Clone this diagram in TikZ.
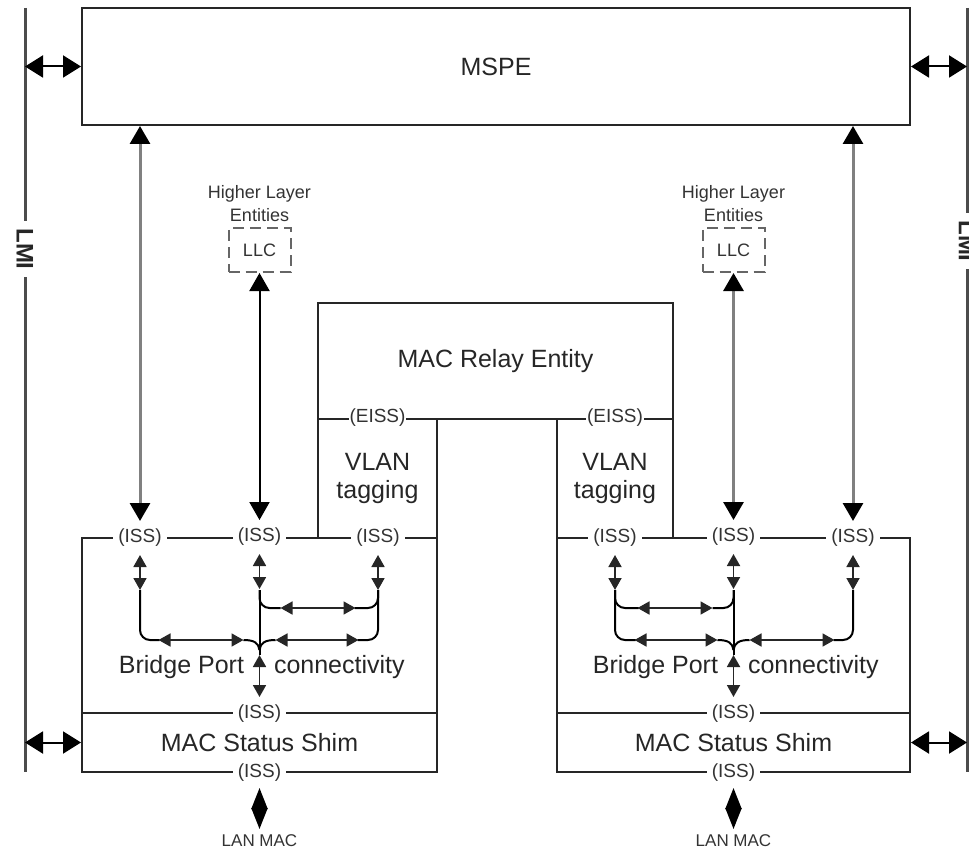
\documentclass[tikz,border=0pt]{standalone}
\usepackage{fontspec}
\setmainfont{Liberation Sans}
\usetikzlibrary{arrows.meta,positioning}

\begin{document}
\begin{tikzpicture}[
    x = 1pt, y = -1pt, % one unit per pixel, y downwards
    > = {Triangle[length=18pt, width=20pt, color=black]}, % arrow head style
    line width = 2pt, % line style
    ]

    \tikzset{
    box/.style = {draw = black!85, inner sep = 0pt, align = center,
        text = black!85, font = \fontsize{25}{28}\selectfont},
    txt/.style = {text = black!85, inner sep = 0pt, font = \fontsize{25}{28}\selectfont},
    iss/.style = {fill = white, inner xsep = 5pt, inner ysep = 1pt,
        text = black!80, font = \fontsize{19}{21}\selectfont},
    eiss/.style = {iss, inner xsep = 1pt},
    note/.style = {align = center, inner sep = 1pt, text = black!80,
        font = \fontsize{18}{23}\selectfont},
    llc/.style = {draw = black!60, dash pattern = on 11pt off 6pt,
        minimum width = 62, minimum height = 44, text = black!80,
        font = \fontsize{18}{20}\selectfont},
    lmitxt/.style = {rotate = -90, fill = white, inner xsep = 7pt, inner ysep = 1pt,
        text = black!85, font = \bfseries\fontsize{24}{26}\selectfont},
    lmi/.style = {black!70, line width = 3pt},
    mgmt/.style = {<->, black!50, line width = 3pt},
    link/.style = {<->, black},
    side/.style = {>={Triangle[length=18pt, width=22pt]}, <->, black},
    lan/.style = {>={Triangle[length=21pt, width=16pt]}, <->, black},
    tick/.style = {>={Triangle[length=12pt, width=13pt]}, <->, black!85, line width = 1.8pt},
    }

    \useasboundingbox (0,0) rectangle (969,853);

    % management and relay
    \node[box, minimum width = 828, minimum height = 117] (mspe) at (496,66.5) {MSPE};
    \node[box, minimum width = 355, minimum height = 116] (relay) at (495.5,361) {MAC Relay Entity};
    \node[box, minimum width = 119, minimum height = 119] (vlanL) at (377.5,478.5) {VLAN\\tagging};
    \node[box, minimum width = 116, minimum height = 119] (vlanR) at (615,478.5) {VLAN\\tagging};

    % bridge ports
    \node[box, minimum width = 355, minimum height = 175] (portL) at (259.5,625.5) {};
    \node[box, minimum width = 355, minimum height = 59] (shimL) at (259.5,742.5) {MAC Status Shim};
    \node[box, minimum width = 353, minimum height = 175] (portR) at (733.5,625.5) {};
    \node[box, minimum width = 353, minimum height = 59] (shimR) at (733.5,742.5) {MAC Status Shim};

    \node[txt, anchor = base east] (bpL) at (245,673) {Bridge Port};
    \node[txt, anchor = base west] (cnL) at (273,673) {connectivity};
    \node[txt, anchor = base east] (bpR) at (719,673) {Bridge Port};
    \node[txt, anchor = base west] (cnR) at (747,673) {connectivity};

    % service access points
    \node[eiss] (eissL) at (vlanL.north) {(EISS)};
    \node[eiss] (eissR) at (vlanR.north) {(EISS)};
    \node[iss] (issLa) at (140,538) {(ISS)};
    \node[iss] (issLb) at (portL.north) {(ISS)};
    \node[iss] (issLc) at (378,538) {(ISS)};
    \node[iss] (issLm) at (portL.south) {(ISS)};
    \node[iss] (issLd) at (shimL.south) {(ISS)};
    \node[iss] (issRa) at (615,538) {(ISS)};
    \node[iss] (issRb) at (portR.north) {(ISS)};
    \node[iss] (issRc) at (853,538) {(ISS)};
    \node[iss] (issRm) at (portR.south) {(ISS)};
    \node[iss] (issRd) at (shimR.south) {(ISS)};

    % higher layers
    \node[llc] (llcL) at (issLb |- 0,250) {LLC};
    \node[llc] (llcR) at (issRb |- 0,250) {LLC};
    \node[note, above = 3pt of llcL] (hleL) {Higher Layer\\Entities};
    \node[note, above = 3pt of llcR] (hleR) {Higher Layer\\Entities};
    \node[note, font = \fontsize{17}{20}\selectfont] (lanL) at (issLd |- 0,841) {LAN MAC};
    \node[note, font = \fontsize{17}{20}\selectfont] (lanR) at (issRd |- 0,841) {LAN MAC};

    % LMI
    \coordinate (lmiLtop) at (25,8);
    \coordinate (lmiLbot) at (25,772);
    \coordinate (lmiRtop) at (967,8);
    \coordinate (lmiRbot) at (967,772);
    \draw[lmi] (lmiLtop) -- (lmiLbot);
    \draw[lmi] (lmiRtop) -- (lmiRbot);
    \node[lmitxt] (lmiL) at (25,249) {LMI};
    \node[lmitxt] (lmiR) at (967,241) {LMI};

    \draw[side] (lmiLtop |- mspe.west) -- (mspe.west);
    \draw[side] (mspe.east) -- (lmiRtop |- mspe.east);
    \draw[side] (lmiLtop |- shimL.west) -- (shimL.west);
    \draw[side] (shimR.east) -- (lmiRtop |- shimR.east);

    \draw[mgmt] (mspe.south -| issLa) -- ([yshift=17pt]issLa.center);
    \draw[mgmt] (mspe.south -| issRc) -- ([yshift=17pt]issRc.center);
    \draw[link] (llcL.south) -- ([yshift=17pt]issLb.center);
    \draw[mgmt] (llcR.south) -- ([yshift=17pt]issRb.center);

    \draw[lan] ([yshift=-15pt]issLd.center) -- ([yshift=12pt]lanL.center);
    \draw[lan] ([yshift=-15pt]issRd.center) -- ([yshift=12pt]lanR.center);

    \foreach \s in {issLa,issLb,issLc,issRa,issRb,issRc}
        \draw[tick] ([yshift=-17pt]\s.center) -- ([yshift=-52pt]\s.center);

    % port connectivity, right port mirrored
    \foreach \cx/\dir in {259.5/1, 733.5/-1} {
        \begin{scope}[shift = {(\cx,0)}, xscale = \dir]
            \draw[rounded corners = 10pt] (-119.5,590) |- (-100,640);
            \draw[tick] (-101,640) -- (-16,640);
            \draw (-16,640) .. controls (-5,640) and (-1,643) .. (0,650);
            \draw[tick] (16,640) -- (99,640);
            \draw (16,640) .. controls (5,640) and (1,643) .. (0,650);
            \draw[rounded corners = 10pt] (98,640) -| (118.5,590);
            \draw[rounded corners = 10pt] (0,590) |- (21,608);
            \draw[tick] (21,608) -- (96,608);
            \draw[rounded corners = 10pt] (95,608) -| (118.5,590);
            \draw (0,590) -- (0,655);
            \draw[tick] (0,655) -- (0,697);
        \end{scope}
    }
\end{tikzpicture}
\end{document}
